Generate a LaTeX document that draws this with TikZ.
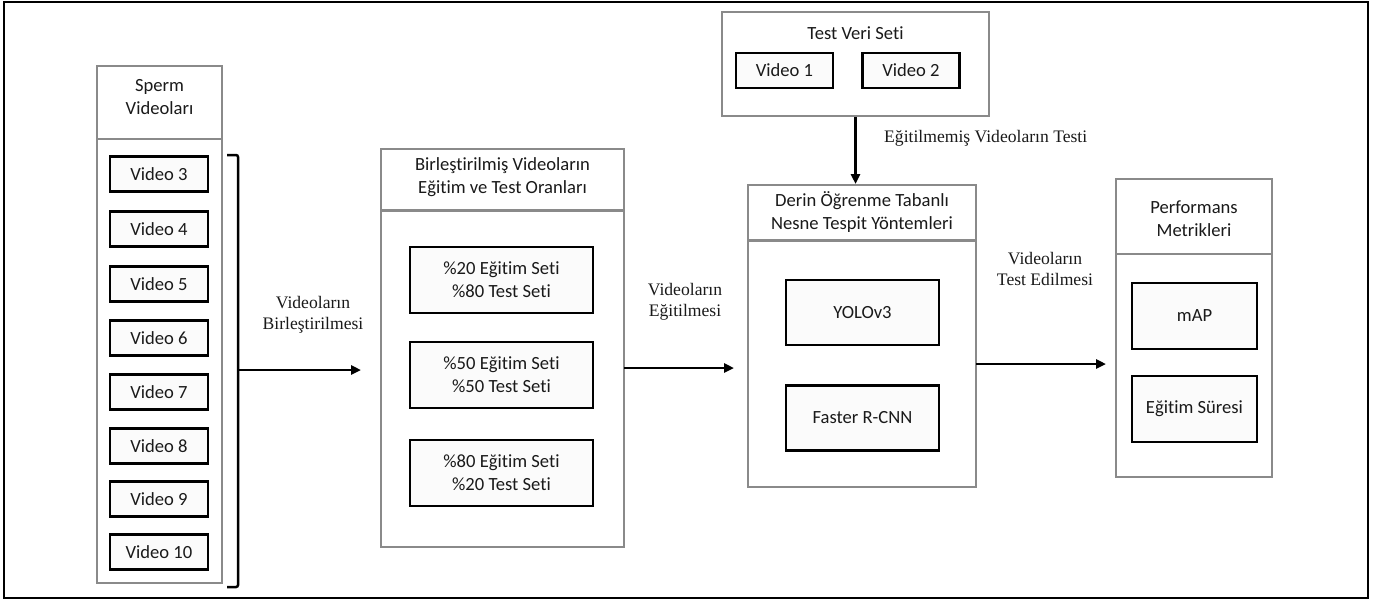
\documentclass[tikz,border=0pt]{standalone}
\usepackage{fontspec}
\setmainfont{Liberation Serif}
\newfontfamily\calfont[Ligatures=CommonOff]{Carlito}
\usetikzlibrary{arrows.meta}
\definecolor{boxgray}{HTML}{8A8A8A}
\definecolor{innerfill}{HTML}{FBFBFB}
\definecolor{txt}{HTML}{1A1A1A}
\tikzset{
  container/.style={draw=boxgray, line width=2pt, fill=white, rectangle, inner sep=0pt},
  inner/.style={draw=black, line width=2.8pt, fill=innerfill, rectangle, inner sep=0pt,
    font=\calfont\fontsize{18.6}{23}\selectfont, text=txt, align=center},
  title/.style={font=\calfont\fontsize{18.6}{23}\selectfont, text=txt, align=center, inner sep=0pt},
  lbl/.style={font=\fontsize{17.6}{21}\selectfont, text=txt, align=center, inner sep=0pt},
  arr/.style={draw=black, line width=2.5pt, -{Triangle[length=10pt,width=9pt]}},
  thindiv/.style={draw=boxgray, line width=1.5pt},
  thickdiv/.style={draw=boxgray, line width=3pt},
}
\begin{document}
\begin{tikzpicture}[x=1pt,y=-1pt]
\useasboundingbox (0,0) rectangle (1377,603);
\draw[line width=2.5pt] (4,2) rectangle (1368,598);

% Sperm videos container
\node[container, minimum width=125pt, minimum height=517pt] (sperm) at (159.5,324.5) {};
\draw[thindiv] (97,139) -- (222,139);
\node[title] (spermt) at (159.5,97.5) {Sperm\\Videoları};
\foreach \n/\y in {3/174,4/229,5/284,6/338,7/392,8/446,9/499,10/552}{
  \node[inner, minimum width=98pt, minimum height=35pt] (v\n) at (159,\y) {Video \n};
}

% bracket
\draw[line width=2.5pt, rounded corners=2pt] (227,155) -- (238,155) -- (238,587) -- (227,587);
\coordinate (brk) at (238,370);

% Box 2
\node[container, minimum width=243pt, minimum height=398pt] (box2) at (502.5,348) {};
\draw[thickdiv] (381,210) -- (624,210);
\node[title] (box2t) at (502.5,177.5) {Birleştirilmiş Videoların\\Eğitim ve Test Oranları};
\node[inner, minimum width=183pt, minimum height=66pt] (r1) at (501.5,280) {\%20 Eğitim Seti\\\%80 Test Seti};
\node[inner, minimum width=183pt, minimum height=66pt] (r2) at (501.5,375) {\%50 Eğitim Seti\\\%50 Test Seti};
\node[inner, minimum width=183pt, minimum height=66pt] (r3) at (501.5,473) {\%80 Eğitim Seti\\\%20 Test Seti};

% Test set
\node[container, minimum width=267pt, minimum height=104pt] (test) at (855.5,64) {};
\node[title] (testt) at (855.5,33) {Test Veri Seti};
\node[inner, minimum width=97pt, minimum height=35pt] (v1) at (784.5,70.5) {Video 1};
\node[inner, minimum width=97pt, minimum height=35pt] (v2) at (911,70.5) {Video 2};

% Box 3
\node[container, minimum width=228pt, minimum height=302pt] (box3) at (862,336) {};
\draw[thickdiv] (748,240) -- (976,240);
\node[title] (box3t) at (862,212.5) {Derin Öğrenme Tabanlı\\Nesne Tespit Yöntemleri};
\node[inner, minimum width=153pt, minimum height=65pt] (yolo) at (862.5,312.5) {YOLOv3};
\node[inner, minimum width=153pt, minimum height=65pt] (frcnn) at (862.5,418) {Faster R-CNN};

% Box 4
\node[container, minimum width=156pt, minimum height=298pt] (box4) at (1194,328) {};
\draw[thindiv] (1116,254) -- (1272,254);
\node[title] (box4t) at (1194,218.5) {Performans\\Metrikleri};
\node[inner, minimum width=125pt, minimum height=66pt] (map) at (1194.5,316) {mAP};
\node[inner, minimum width=125pt, minimum height=66pt] (sure) at (1194.5,409) {Eğitim Süresi};

% arrows
\draw[arr, shorten >=19pt] (brk) -- (box2.west |- brk);
\coordinate (a2) at (624,368);
\draw[arr, shorten >=13pt] (a2) -- (box3.west |- a2);
\coordinate (a3) at (976,364);
\draw[arr, shorten >=9pt] (a3) -- (box4.west |- a3);
\draw[arr] (test.south) -- (test.south |- box3.north);

% labels
\node[lbl] (l1) at (313,315) {Videoların\\Birleştirilmesi};
\node[lbl] (l2) at (685,302) {Videoların\\Eğitilmesi};
\node[lbl, anchor=west] (l3) at (884,138) {Eğitilmemiş Videoların Testi};
\node[lbl] (l4) at (1045,269) {Videoların\\Test Edilmesi};
\end{tikzpicture}
\end{document}
